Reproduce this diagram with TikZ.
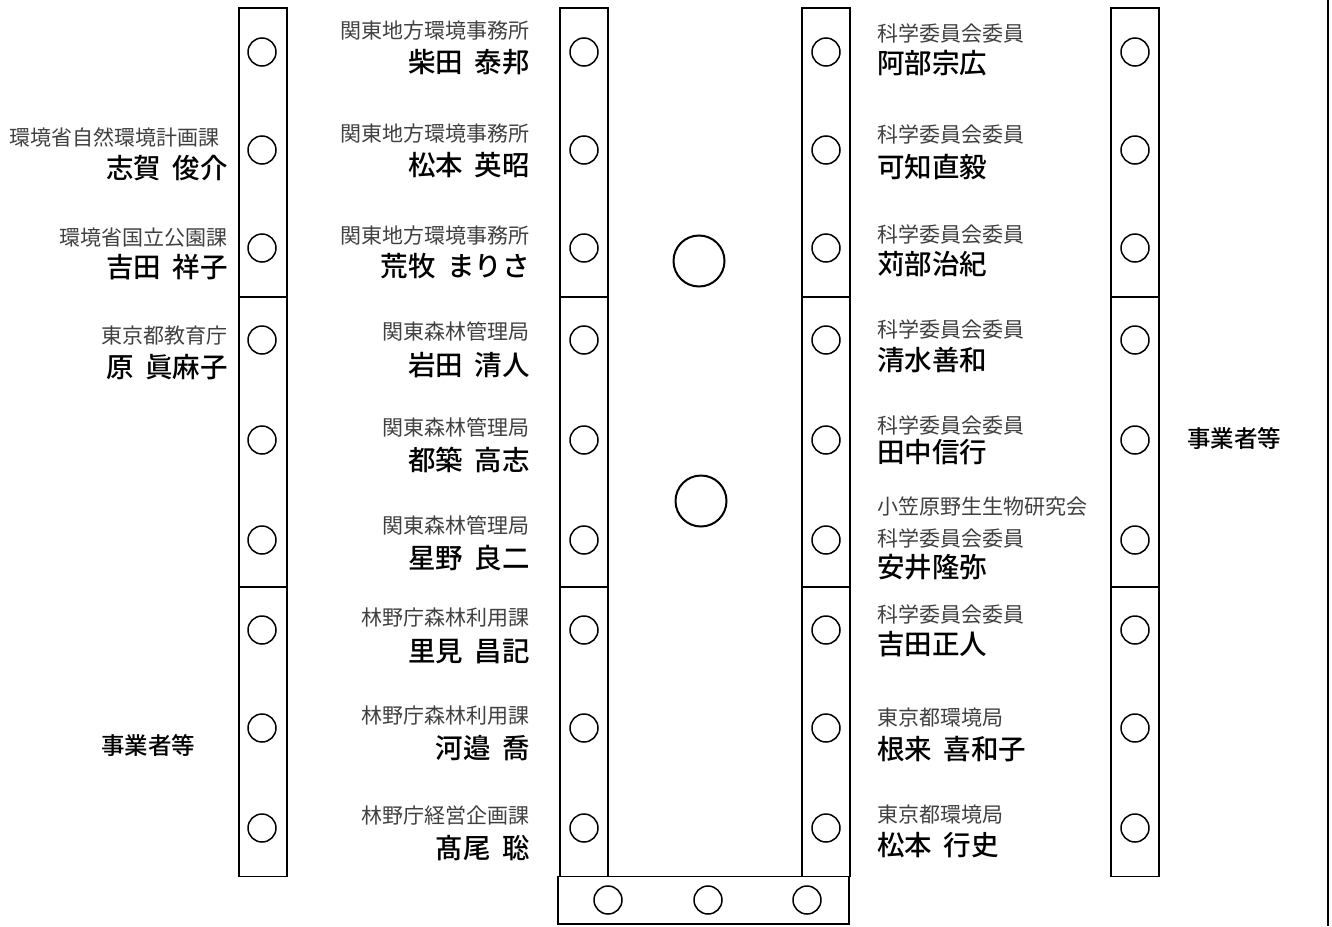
\documentclass[tikz,border=0pt]{standalone}
\usepackage{fontspec}
\newfontfamily\cjk{Noto Sans CJK JP}
\newfontfamily\cjkn{Noto Sans CJK JP Medium}
\newcommand\orgfont{\cjk\fontsize{21}{24}\selectfont}
\newcommand\namefont{\cjkn\fontsize{27.5}{30}\selectfont}
\newcommand\grpfont{\cjkn\fontsize{23.5}{26}\selectfont}
\newcommand\nsp{\hspace{0.42em}}
\tikzset{
  box/.style={draw, line width=1.8pt},
  hole/.style={circle, draw, line width=1.5pt, minimum size=28pt, inner sep=0pt},
  bighole/.style={circle, draw, line width=2pt, minimum size=51pt, inner sep=0pt},
  orgL/.style={font=\orgfont, text=black!75, inner sep=0pt, anchor=base east},
  nameL/.style={font=\namefont, inner sep=0pt, anchor=base east},
  orgR/.style={font=\orgfont, text=black!75, inner sep=0pt, anchor=base west},
  nameR/.style={font=\namefont, inner sep=0pt, anchor=base west},
  grp/.style={font=\grpfont, inner sep=0pt},
}
\begin{document}
\begin{tikzpicture}[x=1pt,y=-1pt]
\useasboundingbox (0,0) rectangle (1332,926);
% columns of boxes
\foreach \xa/\xb in {239/287, 560/608, 802/850, 1111/1159}{
  \draw[box] (\xa,8) rectangle (\xb,297);
  \draw[box] (\xa,297) rectangle (\xb,587);
  \draw[box] (\xa,587) rectangle (\xb,876.5);
}
\draw[box] (558,876.5) rectangle (849,924);
\draw[line width=2pt] (1328,0) -- (1328,926);
% holes
\foreach \c/\x in {a/262, b/584, c/826, d/1135}{
  \foreach \i/\y in {1/52, 2/150, 3/248, 4/340, 5/440, 6/540, 7/630, 8/728, 9/828}{
    \node[hole] (h\c\i) at (\x,\y) {};
  }
}
\node[hole] (hb1) at (608,900) {};
\node[hole] (hb2) at (708,900) {};
\node[hole] (hb3) at (807,900) {};
\node[bighole] (big1) at (699,261) {};
\node[bighole] (big2) at (701,501) {};
% left column labels
\node[orgL] (l1o) at (220,145.5) {環境省自然環境計画課};
\node[nameL] (l1n) at (228,178) {志賀\nsp 俊介};
\node[orgL] (l2o) at (228,245.5) {環境省国立公園課};
\node[nameL] (l2n) at (228,277) {吉田\nsp 祥子};
\node[orgL] (l3o) at (228,343.5) {東京都教育庁};
\node[nameL] (l3n) at (228,377) {原\nsp 眞麻子};
\node[grp] (l4) at (148,746) {事業者等};
% middle-left labels
\node[orgL] (m1o) at (530,38.5) {関東地方環境事務所};
\node[nameL] (m1n) at (530,72) {柴田\nsp 泰邦};
\node[orgL] (m2o) at (530,141) {関東地方環境事務所};
\node[nameL] (m2n) at (530,175) {松本\nsp 英昭};
\node[orgL] (m3o) at (530,243.5) {関東地方環境事務所};
\node[nameL] (m3n) at (530,276) {荒牧\nsp まりさ};
\node[orgL] (m4o) at (530,339.5) {関東森林管理局};
\node[nameL] (m4n) at (530,375) {岩田\nsp 清人};
\node[orgL] (m5o) at (530,435.5) {関東森林管理局};
\node[nameL] (m5n) at (530,470) {都築\nsp 高志};
\node[orgL] (m6o) at (530,533.5) {関東森林管理局};
\node[nameL] (m6n) at (530,568) {星野\nsp 良二};
\node[orgL] (m7o) at (530,625.5) {林野庁森林利用課};
\node[nameL] (m7n) at (530,661) {里見\nsp 昌記};
\node[orgL] (m8o) at (530,723.5) {林野庁森林利用課};
\node[nameL] (m8n) at (530,758) {河邉\nsp 喬};
\node[orgL] (m9o) at (530,823.5) {林野庁経営企画課};
\node[nameL] (m9n) at (530,858) {髙尾\nsp 聡};
% middle-right labels
\node[orgR] (r1o) at (877,41.5) {科学委員会委員};
\node[nameR] (r1n) at (877,73) {阿部宗広};
\node[orgR] (r2o) at (877,142.5) {科学委員会委員};
\node[nameR] (r2n) at (877,177) {可知直毅};
\node[orgR] (r3o) at (877,242.5) {科学委員会委員};
\node[nameR] (r3n) at (877,274) {苅部治紀};
\node[orgR] (r4o) at (877,337.5) {科学委員会委員};
\node[nameR] (r4n) at (877,370) {清水善和};
\node[orgR] (r5o) at (877,433.5) {科学委員会委員};
\node[nameR] (r5n) at (877,462) {田中信行};
\node[orgR] (r6a) at (877,514.5) {小笠原野生生物研究会};
\node[orgR] (r6o) at (877,546.5) {科学委員会委員};
\node[nameR] (r6n) at (877,577) {安井隆弥};
\node[orgR] (r7o) at (877,622.5) {科学委員会委員};
\node[nameR] (r7n) at (877,654) {吉田正人};
\node[orgR] (r8o) at (877,725.5) {東京都環境局};
\node[nameR] (r8n) at (877,759) {根来\nsp 喜和子};
\node[orgR] (r9o) at (877,822.5) {東京都環境局};
\node[nameR] (r9n) at (877,855) {松本\nsp 行史};
% right label
\node[grp] (rg) at (1234,439) {事業者等};
\end{tikzpicture}
\end{document}
